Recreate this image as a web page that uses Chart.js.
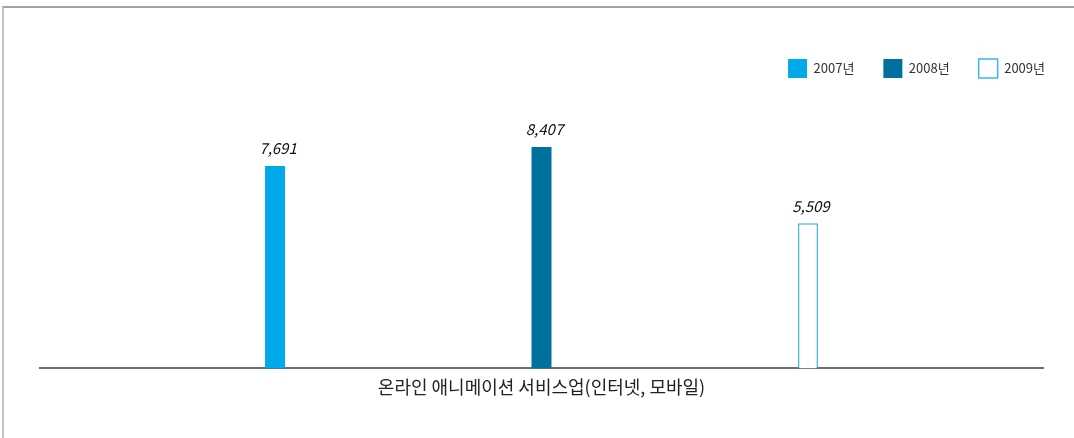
<!DOCTYPE html>
<html>
<head>
<meta charset="utf-8">
<script src="https://cdn.jsdelivr.net/npm/chart.js@4"></script>
<style>
  html, body { margin: 0; padding: 0; background: #fff; }
  #wrap { position: relative; width: 1074px; height: 438px; }
  #frame { position: absolute; left: 2px; top: 6px; right: 0; bottom: 0;
           border-top: 2px solid #a3a3a3; border-left: 2px solid #c6c6c6; }
  canvas { position: absolute; left: 0; top: 0; }
</style>
</head>
<body>
<div id="wrap">
  <div id="frame"></div>
  <canvas id="c" width="1074" height="438"></canvas>
</div>
<script>
const categories = ['온라인 애니메이션 서비스업(인터넷, 모바일)'];
const seriesNames = ['2007년', '2008년', '2009년'];
const values2007 = [7691];
const values2008 = [8407];
const values2009 = [5509];

const FONT = "'Noto Sans CJK KR', 'Noto Sans', sans-serif";

const valueLabels = {
  id: 'valueLabels',
  afterDatasetsDraw(chart) {
    const ctx = chart.ctx;
    ctx.save();
    ctx.font = 'italic 15px ' + FONT;
    ctx.fillStyle = '#111';
    ctx.textAlign = 'center';
    ctx.textBaseline = 'bottom';
    chart.data.datasets.forEach((ds, i) => {
      const meta = chart.getDatasetMeta(i);
      meta.data.forEach((el, j) => {
        const v = ds.data[j];
        ctx.fillText(v.toLocaleString('en-US'), el.x + 3, el.y - 10);
      });
    });
    ctx.restore();
  }
};

new Chart(document.getElementById('c'), {
  type: 'bar',
  data: {
    labels: categories,
    datasets: [
      { label: seriesNames[0], data: values2007, backgroundColor: '#00a9ea', borderColor: '#00a9ea', borderWidth: 0 },
      { label: seriesNames[1], data: values2008, backgroundColor: '#00709f', borderColor: '#00709f', borderWidth: 0 },
      { label: seriesNames[2], data: values2009, backgroundColor: '#ffffff', borderColor: '#3db6ea', borderWidth: 1.5 }
    ]
  },
  options: {
    responsive: false,
    animation: false,
    devicePixelRatio: 1,
    layout: { padding: { left: 40, right: 0, top: 30, bottom: 40 } },
    datasets: { bar: { barPercentage: 0.08, maxBarThickness: 20, categoryPercentage: 0.797 } },
    plugins: {
      legend: {
        position: 'top',
        align: 'end',
        labels: {
          boxWidth: 19,
          boxHeight: 19,
          padding: 29,
          color: '#333',
          font: { family: FONT, size: 13 }
        }
      },
      tooltip: { enabled: false }
    },
    scales: {
      x: {
        grid: { display: false },
        border: { display: true, color: '#6f6f6f', width: 2 },
        ticks: { color: '#222', padding: 0, font: { family: FONT, size: 18 } }
      },
      y: {
        display: false,
        min: 0,
        max: 10650
      },
      y2: {
        position: 'right',
        display: true,
        grid: { display: false },
        border: { display: false },
        ticks: { display: false },
        afterFit(s) { s.width = 31; }
      }
    }
  },
  plugins: [valueLabels]
});
</script>
</body>
</html>
